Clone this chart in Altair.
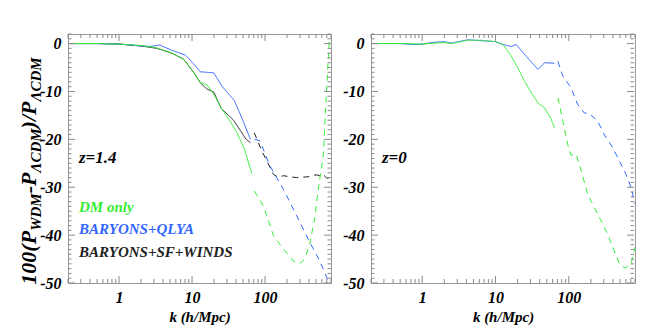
import altair as alt
import pandas as pd

# ---------------- data ----------------
MODELS = ["DM only", "BARYONS+QLYA", "BARYONS+SF+WINDS"]
COLORS = ["#33ee33", "#3366ff", "#222222"]

# left panel, z = 1.4
L_DM_SOLID_K = [0.2, 0.5, 1.0, 2.0, 3.3, 5.3, 7.7, 10.5, 13, 16, 19.8, 25, 33, 41, 52, 66]
L_DM_SOLID_Y = [0, 0, -0.1, -0.4, -0.9, -2.0, -3.3, -6.0, -8.1, -8.6, -10.5, -13.4, -16.2, -18.5, -22.0, -27.2]
L_DM_DASH_K = [71, 95, 130, 178, 243, 300, 350, 410, 480, 540, 626, 697, 756]
L_DM_DASH_Y = [-30.8, -33.9, -40.1, -42.9, -45.4, -45.9, -45.0, -41.8, -36.3, -30.0, -23.5, -9.5, 0.5]

L_QL_SOLID_K = [0.2, 0.5, 1.0, 2.0, 2.7, 3.6, 5.3, 8.1, 10.5, 13, 19.8, 26, 38, 48, 63]
L_QL_SOLID_Y = [0, 0, -0.1, -0.5, -0.6, -0.3, -1.4, -2.4, -4.2, -5.9, -6.1, -9.0, -11.9, -15.5, -20.0]
L_QL_DASH_K = [72, 85, 100, 117, 178, 272, 410, 563, 730, 790]
L_QL_DASH_Y = [-20.0, -20.3, -23.0, -25.6, -30.4, -36.0, -41.5, -45.4, -49.5, -50.0]

L_SF_SOLID_K = [0.2, 0.5, 1.0, 2.0, 3.3, 5.3, 7.7, 10.5, 13, 16, 19.8, 25, 37, 46.5, 55, 63]
L_SF_SOLID_Y = [0, 0, -0.1, -0.5, -1.0, -2.0, -3.3, -6.0, -8.2, -9.5, -10.1, -13.5, -16.0, -18.3, -20.0, -20.7]
L_SF_DASH_K = [71, 90, 106, 130, 150, 178, 272, 400, 500, 563, 620, 700, 800]
L_SF_DASH_Y = [-18.6, -22.4, -24.5, -27.3, -27.9, -27.6, -28.0, -27.8, -27.4, -27.6, -27.3, -28.1, -28.0]

# right panel, z = 0
R_DM_SOLID_K = [0.2, 0.5, 1.0, 1.5, 2.0, 2.5, 4.2, 6.4, 10, 12.6, 16.4, 20.2, 25, 30.8, 37.9, 46.6, 57.5, 63.6]
R_DM_SOLID_Y = [0, 0, -0.1, 0.1, 0.2, 0.0, 0.7, 0.7, 0.4, -0.2, -2.6, -5.1, -7.9, -10.3, -12.4, -13.4, -15.8, -17.6]
R_DM_DASH_K = [71, 83, 96.5, 107, 126, 148, 181, 224, 275, 339, 417, 489, 585, 708, 800]
R_DM_DASH_Y = [-11.3, -16.2, -21.0, -23.3, -23.1, -26.6, -31.5, -34.3, -37.0, -39.8, -43.3, -46.0, -46.9, -46.0, -42.5]

R_QL_SOLID_K = [0.2, 0.5, 0.8, 1.0, 1.5, 2.0, 2.5, 4.2, 6.4, 10, 12.6, 16.4, 19.2, 25, 37.9, 46.6, 63.6]
R_QL_SOLID_Y = [0, 0, -0.2, -0.1, 0.3, 0.4, 0.1, 0.8, 0.6, 0.4, -0.2, -0.6, -0.2, -2.3, -5.4, -4.0, -4.1]
R_QL_DASH_K = [70.8, 83, 107, 132, 163, 191, 248, 304, 396, 489, 603, 708, 800]
R_QL_DASH_Y = [-3.7, -6.8, -9.2, -12.7, -14.5, -14.6, -16.2, -19.0, -21.7, -24.5, -27.3, -30.1, -33.5]

# axis ticks
X_MAJOR = [1, 10, 100]
X_MINOR = [0.2, 0.3, 0.4, 0.5, 0.6, 0.7, 0.8, 0.9, 2, 3, 4, 5, 6, 7, 8, 9,
           20, 30, 40, 50, 60, 70, 80, 90, 200, 300, 400, 500, 600, 700, 800]
Y_MAJOR = [0, -10, -20, -30, -40, -50]
Y_MINOR = [v for v in range(-49, 3) if v % 10 != 0]

# ---------------- build table ----------------
rows = []
def add(panel, model, style, seg, ks, ys):
    for k, y in zip(ks, ys):
        rows.append(dict(panel=panel, model=model, style=style, seg=seg, k=k, y=y))

add("L", MODELS[2], "solid", "L_SF_s", L_SF_SOLID_K, L_SF_SOLID_Y)
add("L", MODELS[2], "dashed", "L_SF_d", L_SF_DASH_K, L_SF_DASH_Y)
add("L", MODELS[1], "solid", "L_QL_s", L_QL_SOLID_K, L_QL_SOLID_Y)
add("L", MODELS[1], "dashed", "L_QL_d", L_QL_DASH_K, L_QL_DASH_Y)
add("L", MODELS[0], "solid", "L_DM_s", L_DM_SOLID_K, L_DM_SOLID_Y)
add("L", MODELS[0], "dashed", "L_DM_d", L_DM_DASH_K, L_DM_DASH_Y)
add("R", MODELS[1], "solid", "R_QL_s", R_QL_SOLID_K, R_QL_SOLID_Y)
add("R", MODELS[1], "dashed", "R_QL_d", R_QL_DASH_K, R_QL_DASH_Y)
add("R", MODELS[0], "solid", "R_DM_s", R_DM_SOLID_K, R_DM_SOLID_Y)
add("R", MODELS[0], "dashed", "R_DM_d", R_DM_DASH_K, R_DM_DASH_Y)
df = pd.DataFrame(rows)

W, H = 263, 249
FONT = "Liberation Serif"
xs = alt.Scale(type="log", domain=[0.2, 800], nice=False)
ys = alt.Scale(domain=[-50, 2], nice=False, zero=False)
TICKC = "#8a8a8a"

AX = alt.Axis(values=X_MAJOR, labelExpr="'' + datum.value", title="k (h/Mpc)",
              ticks=False, domain=False, grid=False, labelPadding=6, titlePadding=4,
              labelFont=FONT, labelFontSize=16, labelFontStyle="italic", labelFontWeight="bold",
              labelColor="black", titleFont=FONT, titleFontSize=15, titleFontStyle="italic",
              titleFontWeight="bold", titleColor="black", labelFlush=False)
AY = alt.Axis(values=Y_MAJOR, labelExpr="'' + datum.value", title=None,
              ticks=False, domain=False, grid=False, labelPadding=7,
              labelFont=FONT, labelFontSize=16, labelFontStyle="italic", labelFontWeight="bold",
              labelColor="black", labelFlush=False)


def tick_layers():
    out = []
    for vals, ln in [(X_MAJOR, 7), (X_MINOR, 4)]:
        d = pd.DataFrame({"k": vals})
        out.append(alt.Chart(d).mark_rule(color=TICKC, strokeWidth=1).encode(
            x=alt.X("k:Q", scale=xs, axis=AX), y=alt.value(0), y2=alt.value(ln)))
        out.append(alt.Chart(d).mark_rule(color=TICKC, strokeWidth=1).encode(
            x=alt.X("k:Q", scale=xs, axis=AX), y=alt.value(H), y2=alt.value(H - ln)))
    for vals, ln in [(Y_MAJOR, 7), (Y_MINOR, 3.5)]:
        d = pd.DataFrame({"y": vals})
        out.append(alt.Chart(d).mark_rule(color=TICKC, strokeWidth=1).encode(
            y=alt.Y("y:Q", scale=ys, axis=AY), x=alt.value(0), x2=alt.value(ln)))
        out.append(alt.Chart(d).mark_rule(color=TICKC, strokeWidth=1).encode(
            y=alt.Y("y:Q", scale=ys, axis=AY), x=alt.value(W), x2=alt.value(W - ln)))
    return out


def lines(panel):
    return alt.Chart(df[df.panel == panel]).mark_line(strokeWidth=1, clip=True).encode(
        x=alt.X("k:Q", scale=xs, axis=AX),
        y=alt.Y("y:Q", scale=ys, axis=AY),
        color=alt.Color("model:N", scale=alt.Scale(domain=MODELS, range=COLORS), legend=None),
        strokeDash=alt.StrokeDash("style:N", scale=alt.Scale(domain=["solid", "dashed"],
                                  range=[[1, 0], [6, 5]]), legend=None),
        detail="seg:N",
    )


def label(txt, x, y, color="black", size=15):
    return alt.Chart(pd.DataFrame({"t": [txt]})).mark_text(
        align="left", baseline="alphabetic", font=FONT, fontStyle="italic",
        fontWeight="bold", fontSize=size, color=color).encode(
        text="t:N", x=alt.value(x), y=alt.value(y))


# rotated y-title with subscripts, built from pieces
WID = {"1": 500, "0": 500, "(": 333, ")": 333, "P": 611, "W": 889, "D": 722, "M": 889,
       "-": 333, "C": 667, "/": 278, "Λ": 667}
pieces = [("100(P", False), ("WDM", True), ("-P", False), ("ΛCDM", True), (")/P", False), ("ΛCDM", True)]
MAIN, SUB = 22, 15
lens = [sum(WID[c] for c in t) / 1000 * (SUB if s else MAIN) for t, s in pieces]
total = sum(lens)
center = 137
pos = center + total / 2
trows = []
for (t, s), ln in zip(pieces, lens):
    trows.append(dict(t=t, px=-32 + (5 if s else 0), py=pos, fs=SUB if s else MAIN))
    pos -= ln
title_layer = alt.Chart(pd.DataFrame(trows)).mark_text(
    align="left", baseline="alphabetic", angle=270, font=FONT, fontStyle="italic",
    fontWeight="bold", color="black").encode(
    text="t:N", x=alt.X("px:Q", scale=None), y=alt.Y("py:Q", scale=None),
    size=alt.Size("fs:Q", scale=None, legend=None))

left = alt.layer(
    lines("L"), *tick_layers(),
    label("z=1.4", 11, 129, size=17),
    label("DM only", 11, 178, COLORS[0]),
    label("BARYONS+QLYA", 11, 200, COLORS[1]),
    label("BARYONS+SF+WINDS", 11, 223, COLORS[2]),
    title_layer,
).properties(width=W, height=H)

right = alt.layer(
    lines("R"), *tick_layers(),
    label("z=0", 11, 129, size=17),
).properties(width=W + 1, height=H)

chart = alt.hconcat(left, right, spacing=10).properties(
    padding={"left": 9, "top": 25, "right": 5, "bottom": 0}
).configure_view(stroke="#999999", strokeWidth=1)

chart.save("out.html", embed_options={"renderer": "svg", "actions": False})
